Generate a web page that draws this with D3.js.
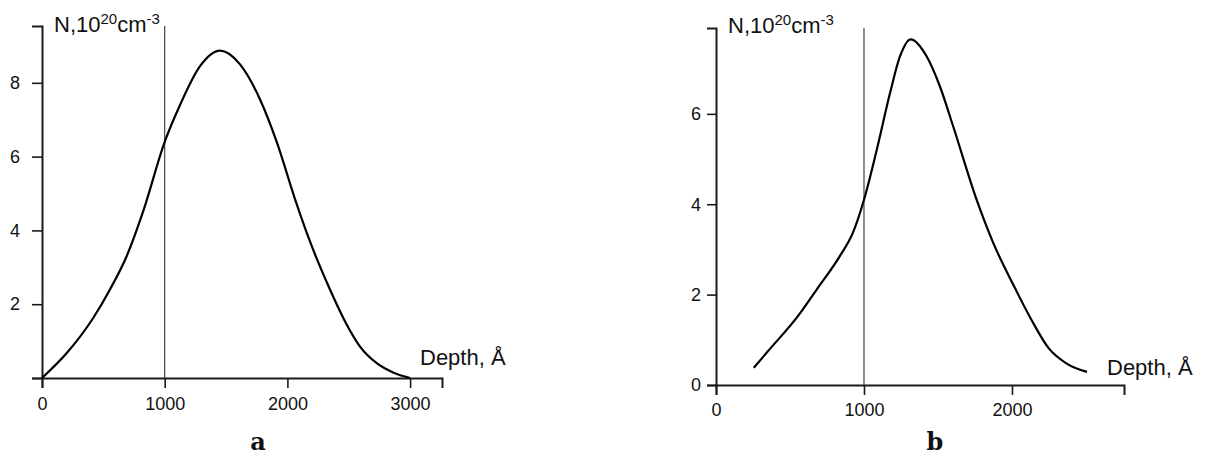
<!DOCTYPE html>
<html>
<head>
<meta charset="utf-8">
<script src="https://cdn.jsdelivr.net/npm/d3@7"></script>
<style>
  html, body { margin: 0; padding: 0; background: #fff; }
  svg { display: block; }
  text { font-family: "Liberation Sans", Arial, sans-serif; fill: #111; }
</style>
</head>
<body>
<svg id="fig" width="1205" height="456"></svg>
<script>
// Implanted concentration profiles, panel a
const depthA = [0, 200, 416, 554, 690, 823, 1000, 1125, 1288, 1451, 1614, 1777, 1913, 2062, 2184, 2347, 2483, 2592, 2728, 2861, 3000];
const concA  = [0, 0.67, 1.62, 2.40, 3.30, 4.50, 6.40, 7.40, 8.45, 8.87, 8.50, 7.55, 6.40, 4.85, 3.70, 2.40, 1.45, 0.85, 0.40, 0.15, 0];

// Panel b
const depthB = [255, 349, 560, 678, 842, 924, 1000, 1086, 1176, 1243, 1316, 1424, 1514, 1603, 1761, 1874, 2015, 2132, 2249, 2367, 2507];
const concB  = [0.38, 0.74, 1.55, 2.10, 2.88, 3.36, 4.10, 5.20, 6.46, 7.27, 7.65, 7.27, 6.60, 5.72, 4.10, 3.14, 2.18, 1.44, 0.81, 0.48, 0.29];

// Axis ticks
const xTicksA = [0, 1000, 2000, 3000];
const yTicksA = [0, 2, 4, 6, 8];
const xTicksB = [0, 1000, 2000];
const yTicksB = [0, 2, 4, 6];
const markerDepth = 1000;

const svg = d3.select("#fig");
const fmt = d3.format("d");

function panel(cfg) {
  const x = d3.scaleLinear().domain(cfg.xDomain).range(cfg.xRange);
  const y = d3.scaleLinear().domain(cfg.yDomain).range(cfg.yRange);
  const g = svg.append("g");

  // y axis
  const ya = g.append("g")
    .attr("transform", `translate(${cfg.xRange[0]},0)`)
    .call(d3.axisLeft(y).tickValues(cfg.yTicks).tickSizeOuter(0)
      .tickSize(cfg.yTickSize).tickPadding(cfg.yPad)
      .tickFormat(d => (cfg.hideZero && d === 0) ? "" : fmt(d)));
  // x axis
  const xa = g.append("g")
    .attr("transform", `translate(0,${cfg.yRange[0]})`)
    .call(d3.axisBottom(x).tickValues(cfg.xTicks).tickSizeOuter(0)
      .tickSize(10).tickPadding(cfg.xPad).tickFormat(fmt));

  [ya, xa].forEach(a => {
    a.select(".domain").attr("stroke", "#1a1a1a").attr("stroke-width", 2);
    a.selectAll(".tick line").attr("stroke", "#1a1a1a").attr("stroke-width", 1.6);
    a.selectAll(".tick text")
      .style("font-family", "'Liberation Sans', Arial, sans-serif")
      .style("font-size", "18px").attr("fill", "#111");
  });

  // thin marker line at 1000 Å
  g.append("line")
    .attr("x1", x(markerDepth)).attr("x2", x(markerDepth))
    .attr("y1", y(cfg.yDomain[1])).attr("y2", y(0))
    .attr("stroke", "#333").attr("stroke-width", 1.1);

  // profile curve
  const pts = cfg.depth.map((d, i) => [d, cfg.conc[i]]);
  g.append("path")
    .datum(pts)
    .attr("fill", "none")
    .attr("stroke", "#000")
    .attr("stroke-width", 2.2)
    .attr("stroke-linejoin", "round")
    .attr("d", d3.line().x(d => x(d[0])).y(d => y(d[1])).curve(d3.curveMonotoneX));

  // y axis label N,10^20 cm^-3
  const yl = g.append("text")
    .attr("x", cfg.yLabel[0]).attr("y", cfg.yLabel[1])
    .style("font-size", "22px");
  yl.append("tspan").text("N,10");
  yl.append("tspan").attr("dy", -8).style("font-size", "15px").text("20");
  yl.append("tspan").attr("dy", 8).text("cm");
  yl.append("tspan").attr("dy", -8).style("font-size", "15px").text("-3");

  // x axis label
  g.append("text")
    .attr("x", cfg.xLabel[0]).attr("y", cfg.xLabel[1])
    .style("font-size", "22px")
    .text("Depth, Å");

  // panel letter
  g.append("text")
    .attr("x", cfg.letter[0]).attr("y", cfg.letter[1])
    .attr("text-anchor", "middle")
    .style("font-family", "'DejaVu Serif', 'Liberation Serif', serif")
    .style("font-weight", "bold")
    .style("font-size", "24px")
    .text(cfg.name);
}

panel({
  name: "a",
  depth: depthA, conc: concA,
  xDomain: [0, 3260], xRange: [42, 442],
  yDomain: [0, 9.54], yRange: [378, 26],
  xTicks: xTicksA, yTicks: yTicksA,
  yTickSize: 10, yPad: 12, xPad: 9, hideZero: true,
  yLabel: [54, 32], xLabel: [420, 365], letter: [258, 450]
});

panel({
  name: "b",
  depth: depthB, conc: concB,
  xDomain: [0, 2757], xRange: [716, 1124],
  yDomain: [0, 7.9], yRange: [385, 28],
  xTicks: xTicksB, yTicks: yTicksB,
  yTickSize: 9, yPad: 6, xPad: 8, hideZero: false,
  yLabel: [728, 33], xLabel: [1107, 375], letter: [935, 450]
});
</script>
</body>
</html>
